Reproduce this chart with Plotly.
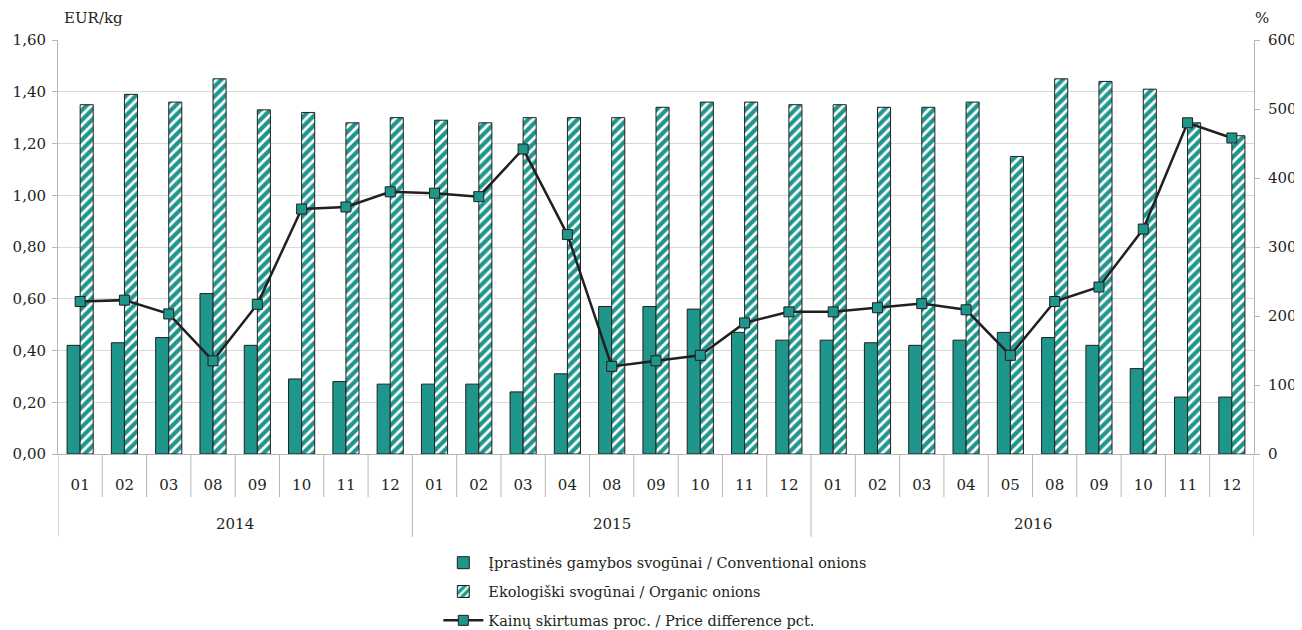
import plotly.graph_objects as go

months = ["01","02","03","08","09","10","11","12",
          "01","02","03","04","08","09","10","11","12",
          "01","02","03","04","05","08","09","10","11","12"]
years = ["2014", "2015", "2016"]
year_counts = [8, 9, 10]

conventional = [0.42, 0.43, 0.45, 0.62, 0.42, 0.29, 0.28, 0.27,
                0.27, 0.27, 0.24, 0.31, 0.57, 0.57, 0.56, 0.47, 0.44,
                0.44, 0.43, 0.42, 0.44, 0.47, 0.45, 0.42, 0.33, 0.22, 0.22]
organic = [1.35, 1.39, 1.36, 1.45, 1.33, 1.32, 1.28, 1.30,
           1.29, 1.28, 1.30, 1.30, 1.30, 1.34, 1.36, 1.36, 1.35,
           1.35, 1.34, 1.34, 1.36, 1.15, 1.45, 1.44, 1.41, 1.28, 1.23]
price_diff = [221, 223, 203, 135, 217, 355, 358, 380,
              378, 373, 442, 318, 127, 135, 143, 190, 206,
              206, 212, 218, 209, 143, 221, 242, 326, 480, 458]

TEAL = "#1f968b"
DARK = "#231f20"
GRID = "#d9d9d9"
AXIS = "#b5b5b5"
FONT = "DejaVu Serif"
FS = 15

xs = list(range(len(months)))

fig = go.Figure()
fig.add_trace(go.Bar(
    x=xs, y=conventional, name="Įprastinės gamybos svogūnai / Conventional onions",
    width=0.295, offset=-0.295,
    marker=dict(color=TEAL, line=dict(color=DARK, width=1)),
    legendgroup="a",
))
fig.add_trace(go.Bar(
    x=xs, y=organic, name="Ekologiški svogūnai / Organic onions",
    width=0.295, offset=0,
    marker=dict(color=TEAL, line=dict(color=DARK, width=1),
                pattern=dict(shape="/", fgcolor="white", bgcolor=TEAL,
                             size=7, solidity=0.4, fillmode="replace")),
    legendgroup="b",
))
fig.add_trace(go.Scatter(
    x=xs, y=price_diff, yaxis="y2", mode="lines+markers",
    name="Kainų skirtumas proc. / Price difference pct.",
    line=dict(color=DARK, width=2.5),
    marker=dict(symbol="square", size=10, color=TEAL, line=dict(color=DARK, width=1)),
    legendgroup="c",
))

shapes = []
pos = -0.5
year_bounds = [pos]
for c in year_counts:
    pos += c
    year_bounds.append(pos)
for i in range(len(months) - 1):
    b = i + 0.5
    if b not in year_bounds:
        shapes.append(dict(type="line", xref="x", yref="paper", x0=b, x1=b,
                           y0=0, y1=-0.104, line=dict(color=AXIS, width=1)))
for b in year_bounds:
    shapes.append(dict(type="line", xref="x", yref="paper", x0=b, x1=b,
                       y0=0, y1=-0.200, line=dict(color=AXIS, width=1)))

annotations = []
for k, yr in enumerate(years):
    center = (year_bounds[k] + year_bounds[k + 1]) / 2
    annotations.append(dict(x=center, xref="x", y=-0.170, yref="paper", text=yr,
                            showarrow=False, yanchor="middle",
                            font=dict(family=FONT, size=FS, color=DARK)))
annotations.append(dict(x=0.003, xref="paper", y=1.053, yref="paper", text="EUR/kg",
                        showarrow=False, xanchor="left", yanchor="middle",
                        font=dict(family=FONT, size=FS, color=DARK)))
annotations.append(dict(x=1.007, xref="paper", y=1.053, yref="paper", text="%",
                        showarrow=False, xanchor="center", yanchor="middle",
                        font=dict(family=FONT, size=FS, color=DARK)))

fig.update_layout(
    width=1294, height=622,
    margin=dict(l=50, r=48, t=32, b=176, autoexpand=False),
    paper_bgcolor="white", plot_bgcolor="white",
    separators=", ",
    font=dict(family=FONT, size=FS, color=DARK),
    shapes=shapes,
    annotations=annotations,
    xaxis=dict(range=[-0.5, 26.5], tickmode="array", tickvals=xs, ticktext=months,
               showgrid=False, zeroline=False, showline=True, linecolor=AXIS,
               ticks="", ticklabelstandoff=17, automargin=False,
               tickfont=dict(family=FONT, size=FS, color=DARK)),
    yaxis=dict(range=[0, 1.6], dtick=0.2, tickformat=".2f", automargin=False,
               showgrid=True, gridcolor=GRID, gridwidth=1, zeroline=False,
               showline=True, linecolor=AXIS, ticks="outside", ticklen=5,
               tickcolor=AXIS, ticklabelstandoff=3,
               tickfont=dict(family=FONT, size=FS, color=DARK)),
    yaxis2=dict(range=[0, 600], dtick=100, overlaying="y", side="right",
                showgrid=False, zeroline=False, showline=True, linecolor=AXIS,
                ticks="outside", ticklen=5, tickcolor=AXIS, ticklabelstandoff=5,
                automargin=False,
                tickfont=dict(family=FONT, size=FS, color=DARK)),
    legend=dict(x=0.318, y=-0.224, xanchor="left", yanchor="top",
                orientation="v", traceorder="grouped", tracegroupgap=7,
                itemwidth=40, font=dict(family=FONT, size=14.5, color=DARK),
                bgcolor="rgba(0,0,0,0)"),
    showlegend=True,
)

fig.write_html("out.html")
